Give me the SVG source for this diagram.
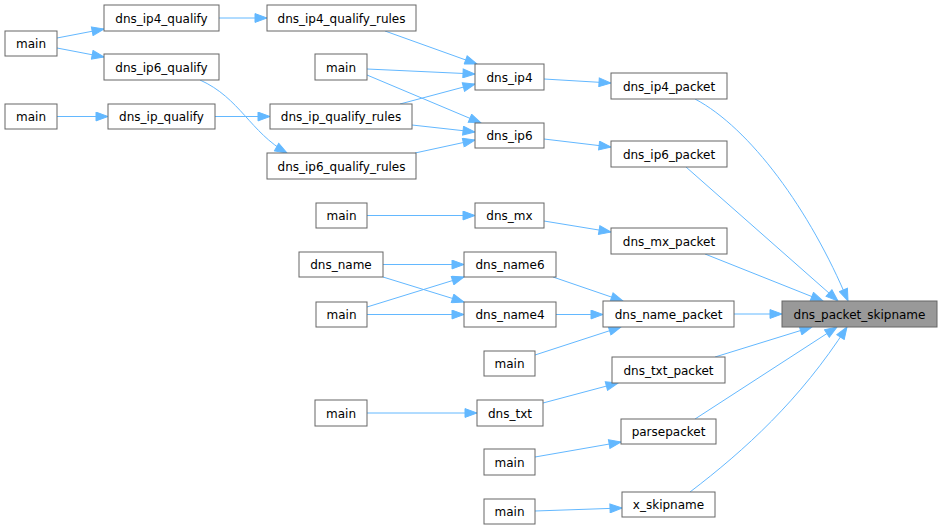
<svg xmlns="http://www.w3.org/2000/svg" width="942" height="530" viewBox="0 0 942 530">
<style>
.n rect{fill:#ffffff;stroke:#666666;stroke-width:1}
.n.root rect{fill:#999999}
.n text{font-family:"DejaVu Sans","Liberation Sans",sans-serif;font-size:12px;fill:#000000;text-anchor:middle}
.e path{fill:none;stroke:#63b8ff;stroke-width:1;marker-end:url(#ah)}
</style>
<defs>
<marker id="ah" markerUnits="userSpaceOnUse" markerWidth="14" markerHeight="10" viewBox="0 0 14 10" refX="13" refY="5" orient="auto">
<path d="M1,0.6 L13,5 L1,9.4 z" fill="#63b8ff" stroke="#63b8ff" stroke-width="1"/>
</marker>
</defs>
<rect x="0" y="0" width="942" height="530" fill="#ffffff"/>
<g id="edges" class="e">
<path d="M57,38 L104,29"/>
<path d="M57,48 L104,57"/>
<path d="M219,18 L267,18"/>
<path d="M200,80 C240,98 250,132 287,153"/>
<path d="M57,116.5 L108,116.5"/>
<path d="M215,116.5 L270,116.5"/>
<path d="M385,31 L477,64"/>
<path d="M367,69 L475,74"/>
<path d="M367,75 L481,123"/>
<path d="M400,104 L475,84"/>
<path d="M412,125 L475,132"/>
<path d="M415,153 L475,140"/>
<path d="M544,79 L611,83"/>
<path d="M544,139 L611,147"/>
<path d="M695,99 C750,128 810,210 848,301"/>
<path d="M686,167 L838,301"/>
<path d="M705,254 L823,301"/>
<path d="M734,314 L782,314"/>
<path d="M715,357 L812,327"/>
<path d="M695,419 L837,327"/>
<path d="M690,492 C745,450 800,400 847,327"/>
<path d="M367,215.5 L475,215.5"/>
<path d="M544,221 L611,232"/>
<path d="M383,264.5 L464,264.5"/>
<path d="M383,277 L464,302"/>
<path d="M367,307 L464,277"/>
<path d="M367,314.5 L464,314.5"/>
<path d="M553,277 L623,301"/>
<path d="M556,314.5 L603,314.5"/>
<path d="M535,355 L621,327"/>
<path d="M367,413 L477,413"/>
<path d="M543,403 L618,383"/>
<path d="M535,457 L621,442"/>
<path d="M535,511 L622,508"/>
</g>
<g id="main_a" class="n"><rect x="5" y="31" width="52" height="25"/><text x="31" y="47.5">main</text></g>
<g id="dns_ip4_qualify" class="n"><rect x="104" y="5" width="115" height="26"/><text x="161.5" y="22.5">dns_ip4_qualify</text></g>
<g id="dns_ip6_qualify" class="n"><rect x="104" y="54" width="115" height="26"/><text x="161.5" y="71.5">dns_ip6_qualify</text></g>
<g id="main_b" class="n"><rect x="5" y="104" width="52" height="25"/><text x="31" y="120.5">main</text></g>
<g id="dns_ip_qualify" class="n"><rect x="108" y="104" width="107" height="25"/><text x="161.5" y="120.5">dns_ip_qualify</text></g>
<g id="dns_ip4_qualify_rules" class="n"><rect x="267" y="5" width="149" height="26"/><text x="341.5" y="22.5">dns_ip4_qualify_rules</text></g>
<g id="dns_ip_qualify_rules" class="n"><rect x="270" y="104" width="142" height="25"/><text x="341" y="120.5">dns_ip_qualify_rules</text></g>
<g id="dns_ip6_qualify_rules" class="n"><rect x="267" y="153" width="149" height="26"/><text x="341.5" y="170.5">dns_ip6_qualify_rules</text></g>
<g id="main_c" class="n"><rect x="315" y="54" width="52" height="26"/><text x="341" y="71.5">main</text></g>
<g id="dns_ip4" class="n"><rect x="475" y="64" width="69" height="26"/><text x="509.5" y="81.5">dns_ip4</text></g>
<g id="dns_ip6" class="n"><rect x="475" y="123" width="69" height="25"/><text x="509.5" y="139.5">dns_ip6</text></g>
<g id="dns_ip4_packet" class="n"><rect x="611" y="73" width="116" height="26"/><text x="669" y="90.5">dns_ip4_packet</text></g>
<g id="dns_ip6_packet" class="n"><rect x="611" y="141" width="116" height="26"/><text x="669" y="158.5">dns_ip6_packet</text></g>
<g id="main_d" class="n"><rect x="316" y="203" width="51" height="25"/><text x="341.5" y="219.5">main</text></g>
<g id="dns_mx" class="n"><rect x="475" y="203" width="69" height="25"/><text x="509.5" y="219.5">dns_mx</text></g>
<g id="dns_mx_packet" class="n"><rect x="611" y="228" width="116" height="26"/><text x="669" y="245.5">dns_mx_packet</text></g>
<g id="dns_name" class="n"><rect x="299" y="252" width="84" height="25"/><text x="341" y="268.5">dns_name</text></g>
<g id="dns_name6" class="n"><rect x="464" y="252" width="92" height="25"/><text x="510" y="268.5">dns_name6</text></g>
<g id="main_e" class="n"><rect x="316" y="302" width="51" height="25"/><text x="341.5" y="318.5">main</text></g>
<g id="dns_name4" class="n"><rect x="464" y="302" width="92" height="25"/><text x="510" y="318.5">dns_name4</text></g>
<g id="dns_name_packet" class="n"><rect x="603" y="301" width="131" height="26"/><text x="668.5" y="318.5">dns_name_packet</text></g>
<g id="dns_packet_skipname" class="n root"><rect x="782" y="301" width="155" height="26"/><text x="859.5" y="318.5">dns_packet_skipname</text></g>
<g id="main_f" class="n"><rect x="484" y="351" width="51" height="25"/><text x="509.5" y="367.5">main</text></g>
<g id="dns_txt_packet" class="n"><rect x="612" y="357" width="113" height="26"/><text x="668.5" y="374.5">dns_txt_packet</text></g>
<g id="main_g" class="n"><rect x="315" y="400" width="52" height="26"/><text x="341" y="417.5">main</text></g>
<g id="dns_txt" class="n"><rect x="477" y="400" width="66" height="26"/><text x="510" y="417.5">dns_txt</text></g>
<g id="parsepacket" class="n"><rect x="621" y="419" width="95" height="25"/><text x="668.5" y="435.5">parsepacket</text></g>
<g id="main_h" class="n"><rect x="484" y="449" width="51" height="26"/><text x="509.5" y="466.5">main</text></g>
<g id="main_i" class="n"><rect x="484" y="499" width="51" height="25"/><text x="509.5" y="515.5">main</text></g>
<g id="x_skipname" class="n"><rect x="622" y="492" width="93" height="25"/><text x="668.5" y="508.5">x_skipname</text></g>
</svg>
